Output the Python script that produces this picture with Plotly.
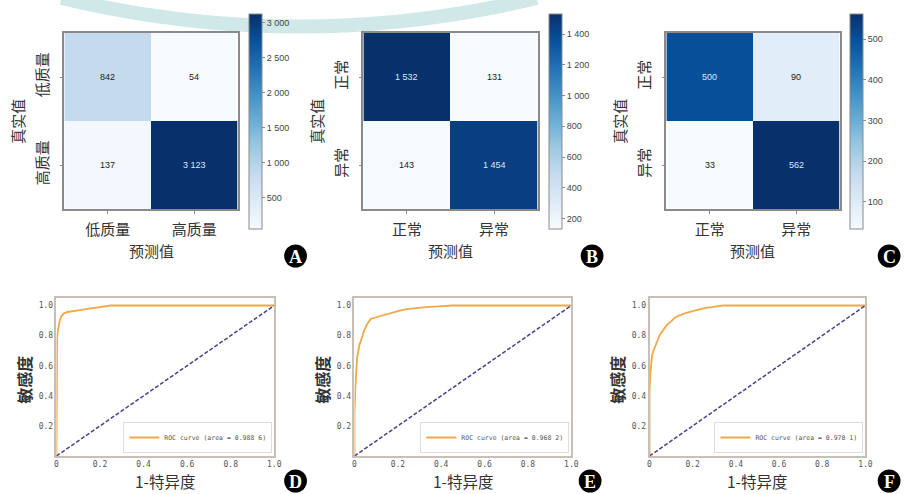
import plotly.graph_objects as go
import plotly.colors as pc

W, H = 909, 494

# ---------------- data ----------------
labels_a = ["低质量", "高质量"]
cm_a = [[842, 54], [137, 3123]]
cbar_a_ticks = [500, 1000, 1500, 2000, 2500, 3000]

labels_b = ["正常", "异常"]
cm_b = [[1532, 131], [143, 1454]]
cbar_b_ticks = [200, 400, 600, 800, 1000, 1200, 1400]

labels_c = ["正常", "异常"]
cm_c = [[500, 90], [33, 562]]
cbar_c_ticks = [100, 200, 300, 400, 500]

roc_d_fpr = [0, 0, 0.003, 0.006, 0.01, 0.016, 0.023, 0.035, 0.05, 0.07, 0.1, 0.15, 0.2, 0.25, 0.5, 1.0]
roc_d_tpr = [0, 0.70, 0.78, 0.83, 0.87, 0.905, 0.93, 0.948, 0.957, 0.963, 0.968, 0.98, 0.99, 1.0, 1.0, 1.0]
auc_d = "0.988 6"

roc_e_fpr = [0, 0, 0.004, 0.008, 0.012, 0.018, 0.023, 0.033, 0.046, 0.06, 0.076, 0.1, 0.13, 0.17, 0.205, 0.24, 0.28, 0.33, 0.39, 0.45, 1.0]
roc_e_tpr = [0, 0.29, 0.45, 0.58, 0.65, 0.70, 0.74, 0.78, 0.84, 0.88, 0.912, 0.922, 0.935, 0.952, 0.965, 0.976, 0.984, 0.99, 0.995, 1.0, 1.0]
auc_e = "0.968 2"

roc_f_fpr = [0, 0, 0.004, 0.008, 0.012, 0.018, 0.026, 0.036, 0.049, 0.063, 0.08, 0.1, 0.118, 0.14, 0.17, 0.2, 0.23, 0.26, 0.29, 0.34, 0.5, 1.0]
roc_f_tpr = [0, 0.43, 0.55, 0.62, 0.67, 0.70, 0.73, 0.77, 0.81, 0.835, 0.87, 0.895, 0.92, 0.935, 0.952, 0.962, 0.975, 0.985, 0.99, 1.0, 1.0, 1.0]
auc_f = "0.970 1"

# ---------------- helpers ----------------
def fx(x):
    return x / W

def fy(y):
    return 1 - y / H

def fmt(v):
    return f"{v:,}".replace(",", " ")

def paper_text(x, y, text, size, color="#333", family="Noto Sans CJK SC", angle=0):
    return dict(x=fx(x), y=fy(y), xref="paper", yref="paper", text=text, showarrow=False,
                xanchor="center", yanchor="middle", textangle=angle, borderpad=0,
                font=dict(family=family, size=size, color=color))

blues = pc.sequential.Blues
cn_font = "Noto Sans CJK SC"
grey = "#8a8a8a"

fig = go.Figure()

# ---------------- heatmaps ----------------
heat_panels = [
    (labels_a, cm_a, cbar_a_ticks, (63, 238), 249, ""),
    (labels_b, cm_b, cbar_b_ticks, (365, 541), 552, "2"),
    (labels_c, cm_c, cbar_c_ticks, (671, 846), 856, "3"),
]
annotations = []
for labels, cm, cticks, (x0, x1), cbx, sfx in heat_panels:
    zmin = min(min(r) for r in cm)
    zmax = max(max(r) for r in cm)
    fig.add_trace(go.Heatmap(
        z=cm, x=labels, y=labels, colorscale=blues, zmin=zmin, zmax=zmax,
        xaxis="x" + sfx, yaxis="y" + sfx, hoverinfo="skip",
        colorbar=dict(
            x=fx(cbx), xanchor="left", y=fy(121.5), yanchor="middle",
            len=215 / H, lenmode="fraction", thickness=13, thicknessmode="pixels",
            xpad=0, ypad=0, outlinewidth=1, outlinecolor=grey,
            tickvals=cticks, ticktext=[fmt(t) for t in cticks],
            ticks="outside", ticklen=3, tickcolor=grey,
            tickfont=dict(family="Liberation Sans", size=9, color="#444"),
        ),
    ))
    thr = (zmin + zmax) / 2
    for i, row in enumerate(cm):
        for j, v in enumerate(row):
            annotations.append(dict(
                x=labels[j], y=labels[i], xref="x" + sfx, yref="y" + sfx,
                text=fmt(v), showarrow=False,
                font=dict(family="Liberation Sans", size=9,
                          color="#dce8f5" if v > thr else "#222"),
            ))
    ax = dict(domain=[fx(x0), fx(x1)], anchor="y" + sfx, showline=True, mirror=True,
              linecolor=grey, linewidth=1.5, ticks="outside", ticklen=3, tickcolor=grey,
              tickfont=dict(family=cn_font, size=15, color="#333"), showgrid=False,
              zeroline=False, fixedrange=True, ticklabelstandoff=3)
    ay = dict(domain=[fy(209), fy(33)], anchor="x" + sfx, showline=True, mirror=True,
              linecolor=grey, linewidth=1.5, ticks="outside", ticklen=3, tickcolor=grey,
              tickfont=dict(family=cn_font, size=15, color="#333"), tickangle=-90,
              autorange="reversed", showgrid=False, zeroline=False, fixedrange=True,
              ticklabelstandoff=6)
    fig.update_layout(**{"xaxis" + sfx: ax, "yaxis" + sfx: ay})
    annotations.append(paper_text((x0 + x1) / 2, 251, "预测值", 15))
    annotations.append(paper_text(x0 - 48, 121, "真实值", 15, angle=-90))

# ---------------- ROC curves ----------------
roc_panels = [
    (roc_d_fpr, roc_d_tpr, auc_d, (55, 275), "4", "legend"),
    (roc_e_fpr, roc_e_tpr, auc_e, (356, 575), "5", "legend2"),
    (roc_f_fpr, roc_f_tpr, auc_f, (654, 872), "6", "legend3"),
]
for fpr, tpr, auc, (x0, x1), sfx, lg in roc_panels:
    fig.add_trace(go.Scatter(
        x=fpr, y=tpr, mode="lines", line=dict(color="#f0a848", width=1.8),
        name=f"ROC curve (area = {auc})", xaxis="x" + sfx, yaxis="y" + sfx,
        legend=lg, hoverinfo="skip"))
    fig.add_trace(go.Scatter(
        x=[0, 1], y=[0, 1], mode="lines", line=dict(color="#4b3f8c", width=1.5, dash="4px,2px"),
        showlegend=False, xaxis="x" + sfx, yaxis="y" + sfx, hoverinfo="skip"))
    frame = "#c9bfb4"
    ax = dict(domain=[fx(x0), fx(x1)], anchor="y" + sfx, range=[0, 1],
              showline=True, mirror=True, linecolor=frame, linewidth=1.5,
              tickvals=[0, 0.2, 0.4, 0.6, 0.8, 1.0], ticktext=["0", "0.2", "0.4", "0.6", "0.8", "1.0"],
              ticks="", tickfont=dict(family="DejaVu Sans Mono", size=8, color="#555"),
              showgrid=False, zeroline=False, fixedrange=True)
    ay = dict(domain=[fy(456), fy(298)], anchor="x" + sfx, range=[0, 1.05],
              showline=True, mirror=True, linecolor=frame, linewidth=1.5,
              tickvals=[0.2, 0.4, 0.6, 0.8, 1.0], ticktext=["0.2", "0.4", "0.6", "0.8", "1.0"],
              ticks="", tickfont=dict(family="DejaVu Sans Mono", size=8, color="#555"),
              showgrid=False, zeroline=False, fixedrange=True)
    fig.update_layout(**{"xaxis" + sfx: ax, "yaxis" + sfx: ay})
    fig.update_layout(**{lg: dict(
        x=fx(x1 - 2), y=fy(453), xanchor="right", yanchor="bottom", xref="paper", yref="paper",
        bgcolor="rgba(255,255,255,0.9)", bordercolor="#ddd", borderwidth=1,
        font=dict(family="DejaVu Sans Mono", size=6.5, color="#555"), itemwidth=30,
        tracegroupgap=0)})
    annotations.append(paper_text((x0 + x1) / 2, 481, "1-特异度", 15.5))
    annotations.append(paper_text(x0 - 33, 380, "<b>敏感度</b>", 16, angle=-90))

# ---------------- panel letters ----------------
shapes = []
letters = [("A", 296.5, 256), ("B", 596, 256), ("C", 896, 256),
           ("D", 296.5, 481), ("E", 594, 481), ("F", 896, 481)]
for t, cx, cy in letters:
    r = 11.5
    shapes.append(dict(type="circle", xref="paper", yref="paper",
                       x0=fx(cx - r), x1=fx(cx + r), y0=fy(cy + r), y1=fy(cy - r),
                       fillcolor="black", line=dict(width=0)))
    annotations.append(paper_text(cx, cy + 0.5, f"<b>{t}</b>", 18, color="white",
                                  family="Liberation Serif"))

# faint watermark arc at the top
a, b, c = (60, -2), (300, 55), (540, -2)
arc_path = f"M {fx(a[0]):.4f},{fy(a[1]):.4f} Q {fx(b[0]):.4f},{fy(b[1]):.4f} {fx(c[0]):.4f},{fy(c[1]):.4f}"
shapes.append(dict(type="path", xref="paper", yref="paper", path=arc_path,
                   line=dict(color="rgba(150,205,205,0.45)", width=14), layer="below"))

fig.update_layout(
    width=W, height=H, margin=dict(l=0, r=0, t=0, b=0),
    paper_bgcolor="white", plot_bgcolor="white",
    annotations=annotations, shapes=shapes, showlegend=True,
)

fig.write_html("out.html", config={"displayModeBar": False},
               post_script="document.body.style.margin='0';document.body.style.overflow='hidden';")
